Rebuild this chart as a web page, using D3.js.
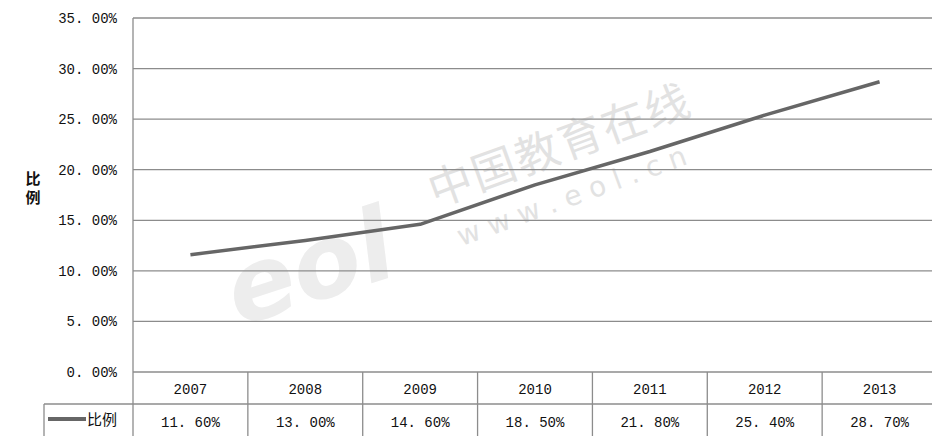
<!DOCTYPE html>
<html>
<head>
<meta charset="utf-8">
<script src="https://cdn.jsdelivr.net/npm/d3@7/dist/d3.min.js"></script>
<style>
  body { margin: 0; background: #fff; }
  svg { display: block; }
</style>
</head>
<body>
<div id="chart"></div>
<script>
// chart data
const years = ["2007", "2008", "2009", "2010", "2011", "2012", "2013"];
const ratio = [11.6, 13.0, 14.6, 18.5, 21.8, 25.4, 28.7];
const yTicks = [0, 5, 10, 15, 20, 25, 30, 35];
const seriesName = "比例";

const width = 932;
const height = 436;

// plot area (right side runs past the window edge, as in the picture)
const plotLeft = 133, plotRight = 937, plotTop = 18, plotBottom = 372;
const row1 = 404, row2 = 440;

const mono = "'Liberation Mono', 'DejaVu Sans Mono', monospace";
const cjk = "'Noto Sans CJK SC', sans-serif";

const svg = d3.select("#chart").append("svg")
    .attr("width", width)
    .attr("height", height);

const x = d3.scaleBand().domain(years).range([plotLeft, plotRight]);
const y = d3.scaleLinear().domain([0, 35]).range([plotBottom, plotTop]);

// watermark
const wm = svg.append("g").attr("fill", "#ededed").attr("pointer-events", "none");
wm.append("text")
    .attr("transform", "translate(320,300) rotate(-18)")
    .attr("font-family", "'DejaVu Sans', sans-serif")
    .attr("font-weight", "bold")
    .attr("font-style", "italic")
    .attr("font-size", 100)
    .attr("text-anchor", "middle")
    .text("eol");
wm.append("text")
    .attr("transform", "translate(565,160) rotate(-20)")
    .attr("font-family", cjk)
    .attr("font-size", 44)
    .attr("fill", "#e2e2e2")
    .attr("text-anchor", "middle")
    .attr("letter-spacing", 2)
    .text("中国教育在线");
wm.append("text")
    .attr("transform", "translate(575,205) rotate(-20)")
    .attr("font-family", "'DejaVu Sans', sans-serif")
    .attr("font-size", 28)
    .attr("fill", "#e2e2e2")
    .attr("text-anchor", "middle")
    .text("w w w . e o l . c n");

// horizontal grid lines
svg.append("g")
    .selectAll("line")
    .data(yTicks)
    .enter().append("line")
    .attr("x1", plotLeft).attr("x2", plotRight)
    .attr("y1", d => y(d)).attr("y2", d => y(d))
    .attr("stroke", "#8c8c8c")
    .attr("stroke-width", 1.3);

// y tick labels
svg.append("g")
    .selectAll("text")
    .data(yTicks)
    .enter().append("text")
    .attr("x", 117)
    .attr("y", d => y(d) + 5)
    .attr("text-anchor", "end")
    .attr("font-family", mono)
    .attr("font-size", 14)
    .attr("fill", "#111")
    .text(d => d.toFixed(2).replace(".", ". ") + "%");

// y axis title (vertical)
svg.append("g")
    .selectAll("text")
    .data(seriesName.split(""))
    .enter().append("text")
    .attr("x", 33)
    .attr("y", (d, i) => 184 + i * 19)
    .attr("text-anchor", "middle")
    .attr("font-family", cjk)
    .attr("font-weight", "bold")
    .attr("font-size", 15)
    .attr("fill", "#111")
    .text(d => d);

// data table
const table = svg.append("g").attr("stroke", "#8c8c8c").attr("stroke-width", 1.3);
table.append("line")
    .attr("x1", plotLeft).attr("x2", plotLeft)
    .attr("y1", plotTop).attr("y2", row2);
table.append("line")
    .attr("x1", 44).attr("x2", plotRight)
    .attr("y1", row1).attr("y2", row1);
table.append("line")
    .attr("x1", 44).attr("x2", 44)
    .attr("y1", row1).attr("y2", row2);
table.selectAll(".sep")
    .data(years.slice(1))
    .enter().append("line")
    .attr("class", "sep")
    .attr("x1", d => x(d)).attr("x2", d => x(d))
    .attr("y1", plotBottom).attr("y2", row2);

svg.append("g")
    .selectAll("text")
    .data(years)
    .enter().append("text")
    .attr("x", d => x(d) + x.bandwidth() / 2)
    .attr("y", 394)
    .attr("text-anchor", "middle")
    .attr("font-family", mono)
    .attr("font-size", 14)
    .attr("fill", "#111")
    .text(d => d);

svg.append("g")
    .selectAll("text")
    .data(ratio)
    .enter().append("text")
    .attr("x", (d, i) => x(years[i]) + x.bandwidth() / 2)
    .attr("y", 427)
    .attr("text-anchor", "middle")
    .attr("font-family", mono)
    .attr("font-size", 14)
    .attr("fill", "#111")
    .text(d => d.toFixed(2).replace(".", ". ") + "%");

// legend key in table
svg.append("line")
    .attr("x1", 48).attr("x2", 86)
    .attr("y1", 419).attr("y2", 419)
    .attr("stroke", "#666")
    .attr("stroke-width", 4);
svg.append("text")
    .attr("x", 87)
    .attr("y", 425)
    .attr("font-family", cjk)
    .attr("font-size", 15)
    .attr("fill", "#111")
    .text(seriesName);

// the line
const line = d3.line()
    .x((d, i) => x(years[i]) + x.bandwidth() / 2)
    .y(d => y(d));

svg.append("path")
    .datum(ratio)
    .attr("d", line)
    .attr("fill", "none")
    .attr("stroke", "#666")
    .attr("stroke-width", 3.5)
    .attr("stroke-linejoin", "round");
</script>
</body>
</html>
